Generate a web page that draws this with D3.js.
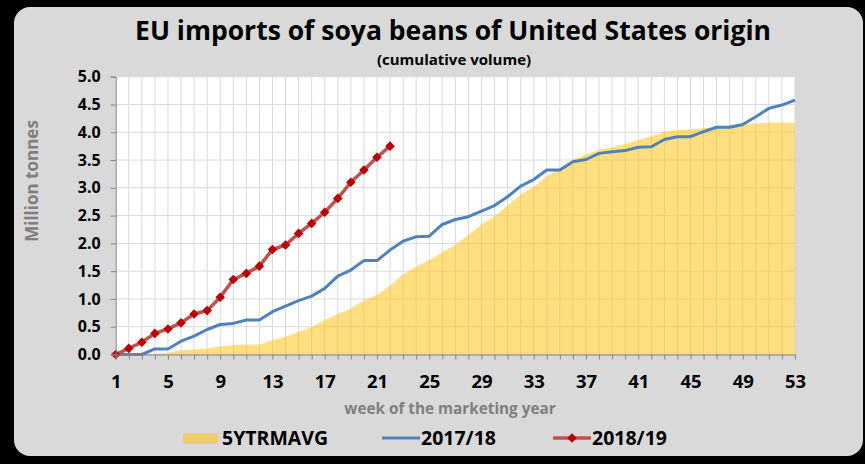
<!DOCTYPE html>
<html>
<head>
<meta charset="utf-8">
<script src="https://cdn.jsdelivr.net/npm/d3@7"></script>
<style>
  body { margin: 0; background: #000; }
  svg { display: block; }
  text { font-family: "Open Sans", "DejaVu Sans", sans-serif; font-weight: 700; }
</style>
</head>
<body>
<svg id="chart"></svg>
<script>
// weeks of the marketing year
var weeks = d3.range(1, 54)
var xTicks = [1, 5, 9, 13, 17, 21, 25, 29, 33, 37, 41, 45, 49, 53]
var yTicks = [0, 0.5, 1, 1.5, 2, 2.5, 3, 3.5, 4, 4.5, 5]

// 5 year average (area)
var avg5y = [0, 0, 0.01, 0.02, 0.03, 0.08, 0.09, 0.11, 0.15, 0.17, 0.18, 0.18, 0.26, 0.32, 0.41,
    0.49, 0.62, 0.73, 0.83, 0.97, 1.07, 1.24, 1.44, 1.58, 1.70, 1.84, 1.97, 2.15, 2.34, 2.49,
    2.68, 2.88, 3.02, 3.21, 3.35, 3.51, 3.60, 3.68, 3.73, 3.79, 3.86, 3.93, 4.01, 4.04, 4.05,
    4.07, 4.09, 4.11, 4.14, 4.16, 4.17, 4.17, 4.17]

// 2017/18
var y1718 = [0, 0, 0, 0.10, 0.10, 0.24, 0.33, 0.45, 0.54, 0.56, 0.62, 0.62, 0.77, 0.87, 0.97,
    1.05, 1.19, 1.41, 1.52, 1.69, 1.69, 1.88, 2.04, 2.12, 2.13, 2.34, 2.43, 2.48, 2.58, 2.68,
    2.84, 3.03, 3.15, 3.32, 3.32, 3.47, 3.51, 3.62, 3.65, 3.67, 3.73, 3.74, 3.87, 3.92, 3.92,
    4.01, 4.09, 4.09, 4.14, 4.28, 4.43, 4.49, 4.58]

// 2018/19 (first 22 weeks)
var y1819 = [0, 0.11, 0.22, 0.38, 0.46, 0.57, 0.73, 0.79, 1.03, 1.35, 1.46, 1.59, 1.89, 1.97,
    2.18, 2.36, 2.56, 2.81, 3.10, 3.32, 3.55, 3.75]

var dimensions = {
    width: 865,
    height: 464,
    margin: { top: 76.7, bottom: 109.5, left: 115.7, right: 70 }
}

var svg = d3.select("#chart")
    .attr("width", dimensions.width)
    .attr("height", dimensions.height)

// grey rounded panel
svg.append("rect")
    .attr("x", 14).attr("y", 7)
    .attr("width", 849).attr("height", 449)
    .attr("rx", 16)
    .attr("fill", "#d9d9d9")

var xScale = d3.scaleLinear()
    .domain([1, 53])
    .range([dimensions.margin.left, dimensions.width - dimensions.margin.right])

var yScale = d3.scaleLinear()
    .domain([0, 5])
    .range([dimensions.height - dimensions.margin.bottom, dimensions.margin.top])

var x0 = xScale.range()[0], x1 = xScale.range()[1]
var yb = yScale.range()[0], yt = yScale.range()[1]

// plot area
svg.append("rect")
    .attr("x", x0).attr("y", yt)
    .attr("width", x1 - x0).attr("height", yb - yt)
    .attr("fill", "white")

// grid
svg.append("g").selectAll("line")
    .data(weeks)
    .enter().append("line")
    .attr("x1", d => xScale(d)).attr("x2", d => xScale(d))
    .attr("y1", yt).attr("y2", yb)
    .attr("stroke", "#d9d9d9").attr("stroke-width", 1)
svg.append("g").selectAll("line")
    .data(yTicks)
    .enter().append("line")
    .attr("x1", x0).attr("x2", x1)
    .attr("y1", d => yScale(d)).attr("y2", d => yScale(d))
    .attr("stroke", "#d9d9d9").attr("stroke-width", 1)

// area
var area = d3.area()
    .x((d, i) => xScale(weeks[i]))
    .y0(yb)
    .y1(d => yScale(d))
svg.append("path")
    .datum(avg5y)
    .attr("d", area)
    .attr("fill", "#ffc000")
    .attr("fill-opacity", 0.5)

var line = d3.line()
    .x((d, i) => xScale(weeks[i]))
    .y(d => yScale(d))

svg.append("path")
    .datum(y1718)
    .attr("d", line)
    .attr("fill", "none")
    .attr("stroke", "#4f81bd")
    .attr("stroke-width", 3)
    .attr("stroke-linejoin", "round")

svg.append("path")
    .datum(y1819)
    .attr("d", line)
    .attr("fill", "none")
    .attr("stroke", "#c0504d")
    .attr("stroke-width", 3.5)
    .attr("stroke-linejoin", "round")

var diamond = d3.symbol().type(d3.symbolSquare).size(46)
svg.append("g").selectAll("path")
    .data(y1819)
    .enter().append("path")
    .attr("d", diamond)
    .attr("transform", (d, i) => "translate(" + xScale(weeks[i]) + "," + yScale(d) + ") rotate(45)")
    .attr("fill", "#c00000")

// axes
var xAxisgen = d3.axisBottom(xScale)
    .tickValues(weeks)
    .tickSize(5)
    .tickFormat(d => xTicks.includes(d) ? d : "")
var xAxis = svg.append("g")
    .attr("transform", "translate(0," + yb + ")")
    .call(xAxisgen)
xAxis.select(".domain").attr("stroke", "#868686")
xAxis.selectAll(".tick line").attr("stroke", "#868686")
xAxis.selectAll("text")
    .attr("y", 20)
    .style("font-size", "18.5px")
    .style("font-family", "'Open Sans', sans-serif")
    .style("font-weight", 700)
    .attr("fill", "#000")

var yAxisgen = d3.axisLeft(yScale)
    .tickValues(yTicks)
    .tickSize(5)
    .tickFormat(d3.format(".1f"))
var yAxis = svg.append("g")
    .attr("transform", "translate(" + x0 + ",0)")
    .call(yAxisgen)
yAxis.select(".domain").attr("stroke", "#868686")
yAxis.selectAll(".tick line").attr("stroke", "#868686")
yAxis.selectAll("text")
    .attr("x", -15)
    .style("font-size", "16px")
    .style("font-family", "'Open Sans', sans-serif")
    .style("font-weight", 700)
    .attr("fill", "#000")

// titles
svg.append("text")
    .attr("x", 453).attr("y", 40)
    .attr("text-anchor", "middle")
    .style("font-size", "26.5px")
    .text("EU imports of soya beans of United States origin")
svg.append("text")
    .attr("x", 454).attr("y", 65)
    .attr("text-anchor", "middle")
    .style("font-size", "15px")
    .text("(cumulative volume)")
svg.append("text")
    .attr("x", 450).attr("y", 414)
    .attr("text-anchor", "middle")
    .attr("fill", "#7f7f7f")
    .style("font-size", "15.3px")
    .text("week of the marketing year")
svg.append("text")
    .attr("transform", "translate(38,181) rotate(-90)")
    .attr("text-anchor", "middle")
    .attr("fill", "#7f7f7f")
    .style("font-size", "17px")
    .text("Million tonnes")

// legend
var legend = svg.append("g").attr("transform", "translate(0,438)")
legend.append("rect")
    .attr("x", 183).attr("y", -5).attr("width", 35).attr("height", 11)
    .attr("fill", "#ffc000").attr("fill-opacity", 0.5)
legend.append("text").attr("x", 222).attr("y", 7).style("font-size", "19.5px").text("5YTRMAVG")
legend.append("line")
    .attr("x1", 382).attr("x2", 420).attr("y1", 0).attr("y2", 0)
    .attr("stroke", "#4f81bd").attr("stroke-width", 3)
legend.append("text").attr("x", 421).attr("y", 7).style("font-size", "19.5px").text("2017/18")
legend.append("line")
    .attr("x1", 553).attr("x2", 591).attr("y1", 0).attr("y2", 0)
    .attr("stroke", "#c0504d").attr("stroke-width", 3.5)
legend.append("path")
    .attr("d", diamond)
    .attr("transform", "translate(572,0) rotate(45)")
    .attr("fill", "#c00000")
legend.append("text").attr("x", 592).attr("y", 7).style("font-size", "19.5px").text("2018/19")
</script>
</body>
</html>
